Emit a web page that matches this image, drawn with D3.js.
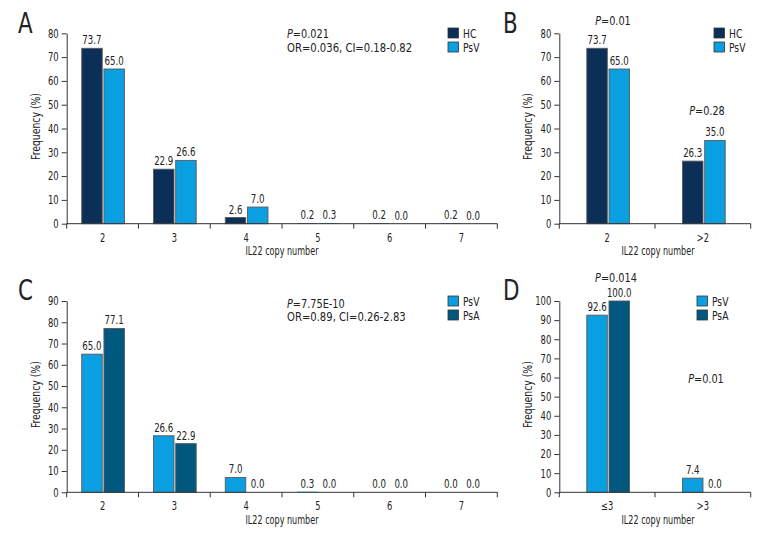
<!DOCTYPE html>
<html><head><meta charset="utf-8">
<script src="https://cdn.jsdelivr.net/npm/d3@7"></script>
<style>
body{margin:0;background:#fff;}
text{font-family:"DejaVu Sans Condensed","Liberation Sans Narrow","Noto Sans",sans-serif;fill:#222;}
</style></head><body>
<svg id="chart" width="780" height="540"></svg>
<script>
// ---- data ----
const catsAC = ["2","3","4","5","6","7"];
const catsB = ["2",">2"];
const catsD = ["\u22643",">3"];
const hcA = [73.7,22.9,2.6,0.2,0.2,0.2];
const psvA = [65.0,26.6,7.0,0.3,0.0,0.0];
const hcB = [73.7,26.3];
const psvB = [65.0,35.0];
const psvC = [65.0,26.6,7.0,0.3,0.0,0.0];
const psaC = [77.1,22.9,0.0,0.0,0.0,0.0];
const psvD = [92.6,7.4];
const psaD = [100.0,0.0];
const yTicksAB = d3.range(0,81,10);
const yTicksC = d3.range(0,91,10);
const yTicksD = d3.range(0,101,10);

const COL = {HC:"#0b2f57", PsV:"#0a9fe0", PsA:"#00587f"};
const svg = d3.select("#chart");

// narrow the glyphs to imitate the condensed face of the original
function squeeze(sel, f){
  sel.each(function(){
    const L = this.getComputedTextLength();
    d3.select(this).attr("textLength", (L*f).toFixed(2)).attr("lengthAdjust","spacingAndGlyphs");
  });
  return sel;
}

function panel(o){
  const g = svg.append("g");
  const x = d3.scaleBand().domain(o.cats).range([o.x0,o.x1]).padding(0);
  const y = d3.scaleLinear().domain([0,o.ymax]).range([o.yb,o.yt]);
  const bw = 20.5, gap = 1.7;
  // bars
  o.series.forEach((s,i)=>{
    s.values.forEach((v,j)=>{
      const cx = x(o.cats[j]) + x.bandwidth()/2 + (o.shift||0);
      const bx = i===0 ? cx - gap/2 - bw : cx + gap/2;
      const h = o.yb - y(v);
      g.append("rect").attr("x",bx).attr("y",y(v)).attr("width",bw).attr("height",h)
        .attr("fill",COL[s.name]).attr("stroke", h>1?"#5a5a5a":"none").attr("stroke-width",0.9);
      squeeze(g.append("text").attr("x",bx+bw/2).attr("y",y(v)-4).attr("text-anchor","middle")
        .attr("font-size",12).text(v.toFixed(1)), 0.8);
    });
  });
  // y axis
  const ya = d3.axisLeft(y).tickValues(o.yticks).tickSize(5).tickSizeOuter(0).tickPadding(3);
  const gy = g.append("g").attr("transform",`translate(${o.x0},0)`).call(ya);
  gy.selectAll("text").attr("font-size",12).attr("font-family",null).style("fill","#222");
  squeeze(gy.selectAll("text"), 0.78);
  gy.selectAll("line,path").attr("stroke","#333");
  // x axis
  const bounds = o.cats.map(c=>x(c)).concat([o.x1]);
  g.append("line").attr("x1",o.x0).attr("x2",o.x1).attr("y1",o.yb).attr("y2",o.yb).attr("stroke","#333");
  bounds.forEach(b=>g.append("line").attr("x1",b).attr("x2",b).attr("y1",o.yb).attr("y2",o.yb+5).attr("stroke","#333"));
  o.cats.forEach(c=>squeeze(g.append("text").attr("x",x(c)+x.bandwidth()/2).attr("y",o.yb+18).attr("text-anchor","middle").attr("font-size",11.5).text(c),0.8));
  squeeze(g.append("text").attr("x",o.titleX).attr("y",o.yb+31.3).attr("text-anchor","middle").attr("font-size",11.5).text("IL22 copy number"),0.78);
  squeeze(g.append("text").attr("transform",`translate(${o.ylabX},${(o.yb+o.yt)/2-2}) rotate(-90)`).attr("text-anchor","middle").attr("font-size",12).text("Frequency (%)"),0.86);
  // panel letter
  squeeze(g.append("text").attr("x",o.lx).attr("y",o.ly).attr("font-size",28).text(o.letter),0.85);
  // legend
  o.series.forEach((s,i)=>{
    g.append("rect").attr("x",o.legX).attr("y",o.legY+i*14).attr("width",10.5).attr("height",10)
      .attr("fill",COL[s.name]).attr("stroke","#333").attr("stroke-width",0.8);
    squeeze(g.append("text").attr("x",o.legX+15).attr("y",o.legY+i*14+9.5).attr("font-size",12).text(s.name),0.85);
  });
  // annotations
  o.notes.forEach(n=>{
    const t = g.append("text").attr("x",n.x).attr("y",n.y).attr("font-size",12).attr("text-anchor",n.anchor||"start");
    if(n.p){
      squeeze(t.append("tspan").attr("font-style","italic").text("P"),0.9);
      squeeze(t.append("tspan").text(n.p),0.9);
    } else squeeze(t.text(n.t),0.93);
  });
}

panel({cats:catsAC, x0:66.7, x1:497.3, yb:223.7, yt:33.3, ymax:80, yticks:yTicksAB,
  series:[{name:"HC",values:hcA},{name:"PsV",values:psvA}],
  titleX:282, ylabX:40, letter:"A", lx:18, ly:33, legX:448, legY:28, shift:0.5,
  notes:[{x:287,y:37.5,p:"=0.021"},{x:287,y:52,t:"OR=0.036, CI=0.18-0.82"}]});

panel({cats:catsB, x0:559.3, x1:750.7, yb:223.7, yt:33.3, ymax:80, yticks:yTicksAB,
  series:[{name:"HC",values:hcB},{name:"PsV",values:psvB}],
  titleX:658, ylabX:532, letter:"B", lx:503, ly:33, legX:714, legY:28, shift:1,
  notes:[{x:613,y:24.5,p:"=0.01",anchor:"middle"},{x:707,y:114.5,p:"=0.28",anchor:"middle"}]});

panel({cats:catsAC, x0:66.7, x1:497.3, yb:492.3, yt:301, ymax:90, yticks:yTicksC,
  series:[{name:"PsV",values:psvC},{name:"PsA",values:psaC}],
  titleX:282, ylabX:40, letter:"C", lx:18, ly:300, legX:448, legY:296, shift:0.5,
  notes:[{x:287,y:307.5,p:"=7.75E-10"},{x:287,y:320.5,t:"OR=0.89, CI=0.26-2.83"}]});

panel({cats:catsD, x0:559.3, x1:750.7, yb:492.3, yt:301, ymax:100, yticks:yTicksD,
  series:[{name:"PsV",values:psvD},{name:"PsA",values:psaD}],
  titleX:658, ylabX:532, letter:"D", lx:503, ly:300, legX:697, legY:296, shift:1,
  notes:[{x:616,y:281.8,p:"=0.014",anchor:"middle"},{x:706,y:382.8,p:"=0.01",anchor:"middle"}]});
</script>
</body></html>
